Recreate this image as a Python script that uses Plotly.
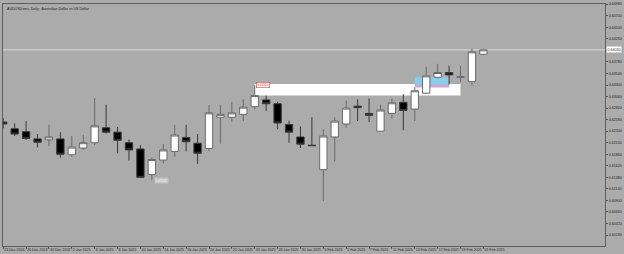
import plotly.graph_objects as go

dates = ["23 Dec 2024", "24 Dec 2024", "26 Dec 2024", "27 Dec 2024", "30 Dec 2024", "31 Dec 2024",
         "2 Jan 2025", "3 Jan 2025", "6 Jan 2025", "7 Jan 2025", "8 Jan 2025", "9 Jan 2025",
         "10 Jan 2025", "13 Jan 2025", "14 Jan 2025", "15 Jan 2025", "16 Jan 2025", "17 Jan 2025",
         "20 Jan 2025", "21 Jan 2025", "22 Jan 2025", "23 Jan 2025", "24 Jan 2025", "27 Jan 2025",
         "28 Jan 2025", "29 Jan 2025", "30 Jan 2025", "31 Jan 2025", "3 Feb 2025", "4 Feb 2025",
         "5 Feb 2025", "6 Feb 2025", "7 Feb 2025", "10 Feb 2025", "11 Feb 2025", "12 Feb 2025",
         "13 Feb 2025", "14 Feb 2025", "17 Feb 2025", "18 Feb 2025", "19 Feb 2025", "20 Feb 2025",
         "21 Feb 2025"]

opens = [0.6253, 0.6239, 0.6233, 0.6218, 0.6216, 0.6218, 0.6185, 0.6199, 0.6210, 0.6241, 0.6232,
         0.6210, 0.6197, 0.6144, 0.6174, 0.6192, 0.6221, 0.6209, 0.6198, 0.6263, 0.6263, 0.6269,
         0.6285, 0.6299, 0.6291, 0.6248, 0.6222, 0.6205, 0.6154, 0.6222, 0.6249, 0.6286, 0.6271,
         0.6234, 0.6271, 0.6294, 0.6280, 0.6313, 0.6346, 0.6356, 0.6346, 0.6337, 0.6394]
highs = [0.6261, 0.6250, 0.6255, 0.6228, 0.6248, 0.6232, 0.6224, 0.6226, 0.6303, 0.6289, 0.6243,
         0.6217, 0.6205, 0.6179, 0.6207, 0.6247, 0.6247, 0.6228, 0.6288, 0.6289, 0.6295, 0.6300,
         0.6329, 0.6308, 0.6295, 0.6256, 0.6244, 0.6263, 0.6238, 0.6263, 0.6298, 0.6300, 0.6302,
         0.6289, 0.6302, 0.6311, 0.6325, 0.6368, 0.6374, 0.6370, 0.6370, 0.6406, 0.6405]
lows = [0.6240, 0.6224, 0.6216, 0.6200, 0.6203, 0.6179, 0.6181, 0.6195, 0.6205, 0.6229, 0.6188,
        0.6173, 0.6137, 0.6133, 0.6167, 0.6181, 0.6192, 0.6166, 0.6192, 0.6208, 0.6253, 0.6255,
        0.6279, 0.6276, 0.6238, 0.6210, 0.6199, 0.6203, 0.6089, 0.6171, 0.6241, 0.6255, 0.6253,
        0.6233, 0.6260, 0.6236, 0.6255, 0.6311, 0.6344, 0.6331, 0.6336, 0.6329, 0.6392]
closes = [0.6249, 0.6228, 0.6219, 0.6211, 0.6222, 0.6186, 0.6201, 0.6210, 0.6245, 0.6232, 0.6215,
          0.6195, 0.6138, 0.6175, 0.6195, 0.6226, 0.6212, 0.6188, 0.6272, 0.6269, 0.6272, 0.6284,
          0.6308, 0.6291, 0.6251, 0.6232, 0.6207, 0.6204, 0.6224, 0.6255, 0.6282, 0.6283, 0.6267,
          0.6278, 0.6293, 0.6277, 0.6318, 0.6349, 0.6356, 0.6351, 0.6347, 0.6399, 0.6403]

price_ticks = [0.60180 + 0.0024 * k for k in range(21)]
price_labels = ["%.5f" % v for v in price_ticks]

zone_white = dict(x0=22, x1=40, y0=0.6308, y1=0.6332)
zone_pink = dict(x0=36, x1=39, y0=0.6325, y1=0.6331)
zone_blue = dict(x0=36, x1=39, y0=0.6330, y1=0.6346)

title_text = "AUDUSDsms, Daily:  Australian Dollar vs US Dollar"
high_label = "0.63310"
low_label = "0.61330"
last_price = closes[-1]

idx = list(range(len(dates)))
BG = "#ababab"
FONT = "Liberation Sans"

fig = go.Figure(go.Candlestick(
    x=idx, open=opens, high=highs, low=lows, close=closes,
    increasing=dict(line=dict(color="#6a6a6a", width=1), fillcolor="#ffffff"),
    decreasing=dict(line=dict(color="#3a3a3a", width=1), fillcolor="#000000"),
    whiskerwidth=0, showlegend=False, hoverinfo="skip"))

shapes = [
    dict(type="rect", xref="x", yref="y", layer="below", line=dict(width=0), fillcolor="#ffffff", **zone_white),
    dict(type="rect", xref="x", yref="y", layer="below", line=dict(width=0), fillcolor="#d9a0cf", **zone_pink),
    dict(type="rect", xref="x", yref="y", layer="below", line=dict(width=0), fillcolor="#88cdea", **zone_blue),
    dict(type="line", xref="paper", yref="y", x0=0, x1=1, y0=last_price, y1=last_price,
         layer="below", line=dict(color="#dcdcdc", width=1)),
]

annotations = [
    dict(xref="paper", yref="paper", x=0.003, y=0.997, xanchor="left", yanchor="top",
         text=title_text, showarrow=False, font=dict(family=FONT, size=3.6, color="#222222")),
    dict(xref="x", yref="y", x=22.15, y=0.6330, xanchor="left", yanchor="middle",
         text=high_label, showarrow=False, font=dict(family=FONT, size=3.2, color="#d03030"),
         bgcolor="#ffffff", bordercolor="#d04040", borderwidth=0.6, borderpad=0.5),
    dict(xref="x", yref="y", x=13.15, y=0.61317, xanchor="left", yanchor="middle",
         text=low_label, showarrow=False, font=dict(family=FONT, size=3.2, color="#f4f4f4"),
         bgcolor="#c4c4c4", borderpad=0.5),
    dict(xref="paper", yref="y", x=1.002, y=last_price, xanchor="left", yanchor="middle",
         text="%.5f" % last_price, showarrow=False, font=dict(family=FONT, size=3.6, color="#333333"),
         bgcolor="#ffffff", borderpad=0.6),
]

fig.update_layout(
    width=624, height=254,
    margin=dict(l=2, r=19, t=2, b=8),
    paper_bgcolor=BG, plot_bgcolor=BG,
    boxgap=0.36, boxgroupgap=0,
    shapes=shapes, annotations=annotations,
    xaxis=dict(range=[-0.02, 52.64], tickvals=idx[::2], ticktext=dates[::2],
               ticks="outside", ticklen=2, tickcolor="#555555", tickwidth=1,
               ticklabelposition="outside right", tickangle=0,
               tickfont=dict(family=FONT, size=3.6, color="#222222"),
               showgrid=False, zeroline=False, showline=True, linecolor="#5e5e5e",
               linewidth=1, mirror=True, rangeslider=dict(visible=False), fixedrange=True),
    yaxis=dict(side="right", range=[0.59953, 0.64984], tickvals=price_ticks, ticktext=price_labels,
               ticks="outside", ticklen=2, tickcolor="#555555", tickwidth=1,
               tickfont=dict(family=FONT, size=3.6, color="#222222"),
               showgrid=False, zeroline=False, showline=True, linecolor="#5e5e5e",
               linewidth=1, mirror=True, fixedrange=True),
)

fig.write_html("out.html")
